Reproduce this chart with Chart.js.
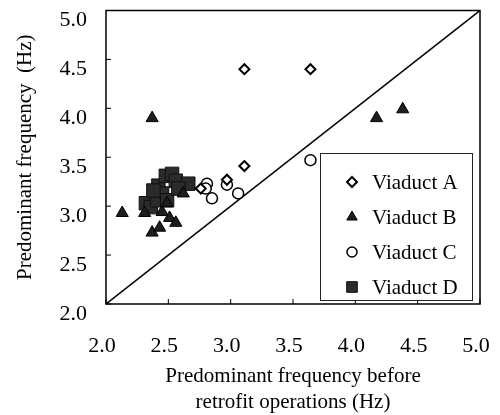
<!DOCTYPE html>
<html>
<head>
<meta charset="utf-8">
<script src="https://cdn.jsdelivr.net/npm/chart.js@4/dist/chart.umd.min.js"></script>
<style>
  html, body { margin: 0; padding: 0; background: #fff; }
</style>
</head>
<body>
<canvas id="freqChart" width="500" height="415"></canvas>
<script>
// Predominant frequency before retrofit (x) and after retrofit (y), Hz
const viaductA_x = [3.11, 3.64, 3.11, 2.76, 2.97];
const viaductA_y = [4.40, 4.40, 3.41, 3.18, 3.27];

const viaductB_x = [2.37, 4.17, 4.38, 2.13, 2.31, 2.37, 2.43, 2.45, 2.51, 2.56, 2.62, 2.49];
const viaductB_y = [3.90, 3.90, 3.99, 2.93, 2.93, 2.73, 2.78, 2.94, 2.88, 2.83, 3.13, 3.03];

const viaductC_x = [3.64, 2.81, 2.80, 2.85, 2.97, 3.06];
const viaductC_y = [3.47, 3.23, 3.18, 3.08, 3.22, 3.13];

const viaductD_x = [2.32, 2.36, 2.42, 2.48, 2.53, 2.56, 2.45, 2.41, 2.49, 2.66, 2.58, 2.38];
const viaductD_y = [3.03, 2.99, 3.21, 3.31, 3.33, 3.26, 3.13, 3.06, 3.06, 3.23, 3.18, 3.16];

// y = x reference line
const equalLine_x = [2.0, 5.0];
const equalLine_y = [2.0, 5.0];

const seriesLabels = ['Viaduct A', 'Viaduct B', 'Viaduct C', 'Viaduct D'];
const axisTicks = [2.0, 2.5, 3.0, 3.5, 4.0, 4.5, 5.0];

const serif = "'Liberation Serif', 'Times New Roman', serif";

function toPoints(xs, ys) {
    return xs.map((v, i) => ({ x: v, y: ys[i] }));
}

// draws the box round the plot and the short inward ticks
const framePlugin = {
    id: 'frame',
    afterDatasetsDraw(chart) {
        const { ctx, chartArea: a, scales: { x, y } } = chart;
        ctx.save();
        ctx.strokeStyle = '#000';
        ctx.lineWidth = 1.5;
        ctx.strokeRect(a.left, a.top, a.right - a.left, a.bottom - a.top);
        ctx.lineWidth = 1;
        ctx.beginPath();
        x.ticks.forEach(t => {
            const px = x.getPixelForValue(t.value);
            ctx.moveTo(px, a.bottom);
            ctx.lineTo(px, a.bottom - 5);
        });
        y.ticks.forEach(t => {
            const py = y.getPixelForValue(t.value);
            ctx.moveTo(a.left, py);
            ctx.lineTo(a.left + 5, py);
        });
        ctx.stroke();
        ctx.restore();
    }
};

// legend box sitting in the lower right corner of the plot
const boxLegend = {
    id: 'boxLegend',
    afterDatasetsDraw(chart) {
        const { ctx, chartArea: a } = chart;
        const left = a.right - 160, top = a.bottom - 151;
        const w = 152, h = 147;
        ctx.save();
        ctx.fillStyle = '#fff';
        ctx.fillRect(left, top, w, h);
        ctx.strokeStyle = '#222';
        ctx.lineWidth = 1;
        ctx.strokeRect(left + 0.5, top + 0.5, w, h);
        ctx.font = '21px ' + serif;
        ctx.textBaseline = 'middle';
        ctx.fillStyle = '#000';
        seriesLabels.forEach((label, i) => {
            const ds = chart.data.datasets[i];
            const cy = top + 29 + i * 35;
            ctx.strokeStyle = ds.borderColor;
            ctx.fillStyle = ds.backgroundColor;
            ctx.lineWidth = ds.borderWidth;
            Chart.helpers.drawPoint(ctx, {
                pointStyle: ds.pointStyle,
                radius: ds.legendRadius,
                rotation: 0,
                borderWidth: ds.borderWidth
            }, left + 32, cy);
            ctx.fillStyle = '#000';
            ctx.fillText(label, left + 52, cy + 1);
        });
        ctx.restore();
    }
};

const ctx = document.getElementById('freqChart').getContext('2d');

new Chart(ctx, {
    type: 'scatter',
    data: {
        datasets: [{
            label: seriesLabels[0],
            data: toPoints(viaductA_x, viaductA_y),
            pointStyle: 'rectRot',
            pointRadius: 5,
            legendRadius: 5,
            backgroundColor: '#fff',
            borderColor: '#000',
            borderWidth: 2
        }, {
            label: seriesLabels[1],
            data: toPoints(viaductB_x, viaductB_y),
            pointStyle: 'triangle',
            pointRadius: 7,
            legendRadius: 6,
            backgroundColor: '#1e1e1e',
            borderColor: '#000',
            borderWidth: 1
        }, {
            label: seriesLabels[2],
            data: toPoints(viaductC_x, viaductC_y),
            pointStyle: 'circle',
            pointRadius: 5.5,
            legendRadius: 5,
            backgroundColor: '#fff',
            borderColor: '#000',
            borderWidth: 1.5
        }, {
            label: seriesLabels[3],
            data: toPoints(viaductD_x, viaductD_y),
            pointStyle: 'rect',
            pointRadius: 9.5,
            legendRadius: 7.5,
            backgroundColor: '#2b2b2b',
            borderColor: '#111',
            borderWidth: 1
        }, {
            label: 'y = x',
            data: toPoints(equalLine_x, equalLine_y),
            showLine: true,
            pointRadius: 0,
            borderColor: '#000',
            borderWidth: 1.5,
            order: 10
        }]
    },
    options: {
        responsive: false,
        animation: false,
        layout: { padding: { top: 7, right: 20, bottom: 0, left: 0 } },
        plugins: {
            legend: { display: false },
            tooltip: { enabled: false }
        },
        scales: {
            x: {
                type: 'linear',
                min: 2, max: 5,
                afterBuildTicks: scale => { scale.ticks = axisTicks.map(v => ({ value: v })); },
                afterFit: scale => {
                    scale.height = 111;
                    scale.paddingLeft = 0;
                    scale.paddingRight = 0;
                },
                grid: { display: false, drawTicks: false },
                border: { display: false },
                ticks: {
                    color: '#000',
                    padding: 29,
                    labelOffset: -4,
                    font: { family: serif, size: 22 },
                    callback: v => v.toFixed(1)
                },
                title: {
                    display: true,
                    text: ['Predominant frequency before', 'retrofit operations (Hz)'],
                    color: '#000',
                    padding: { top: 0, bottom: 0 },
                    font: { family: serif, size: 21, lineHeight: '26px' }
                }
            },
            y: {
                type: 'linear',
                min: 2, max: 5,
                afterBuildTicks: scale => { scale.ticks = axisTicks.map(v => ({ value: v })); },
                afterFit: scale => {
                    scale.width = 106;
                    scale.paddingTop = 0;
                    scale.paddingBottom = 0;
                },
                grid: { display: false, drawTicks: false },
                border: { display: false },
                ticks: {
                    color: '#000',
                    padding: 19,
                    labelOffset: 10,
                    font: { family: serif, size: 22 },
                    callback: v => v.toFixed(1)
                },
                title: {
                    display: true,
                    text: 'Predominant frequency  (Hz)',
                    color: '#000',
                    padding: { top: 13, bottom: 0 },
                    font: { family: serif, size: 21 }
                }
            }
        }
    },
    plugins: [framePlugin, boxLegend]
});
</script>
</body>
</html>
